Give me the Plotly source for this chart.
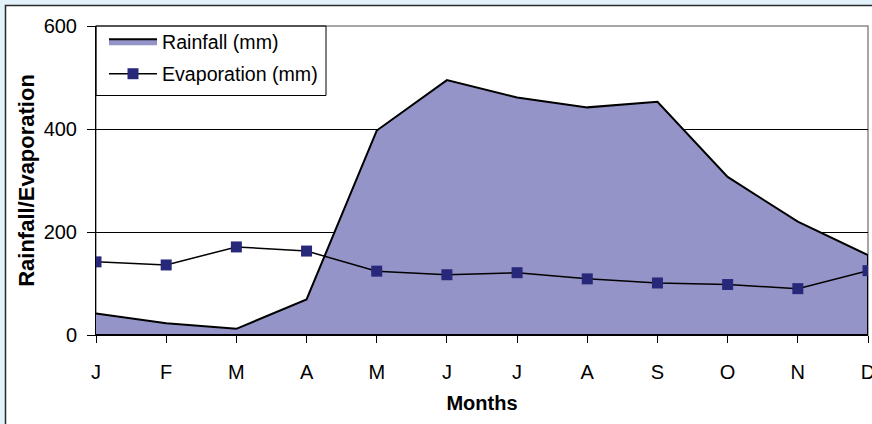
import plotly.graph_objects as go

# Monthly climate data (mm)
months = ["J", "F", "M", "A", "M", "J", "J", "A", "S", "O", "N", "D"]
rainfall = [42, 23, 12, 69, 397, 495, 461, 442, 453, 307, 220, 155]
evaporation = [142, 136, 171, 163, 124, 117, 121, 109, 101, 98, 90, 125]
y_ticks = [0, 200, 400, 600]

W, H = 872, 424
L, R, T, B = 96, 4, 26, 89
pw, ph = W - L - R, H - T - B

idx = list(range(len(months)))

# Rainfall drawn as a closed polygon down to the baseline so the outline
# runs along the last month's edge as well
rain_x = idx + [idx[-1], idx[0]]
rain_y = rainfall + [0, 0]

fig = go.Figure()
fig.add_trace(go.Scatter(
    x=rain_x, y=rain_y, mode="lines", fill="toself",
    fillcolor="#9494c8", line=dict(color="black", width=2),
    name="Rainfall (mm)", legendgroup="a", hoverinfo="skip",
))
fig.add_trace(go.Scatter(
    x=idx, y=evaporation, mode="lines+markers",
    line=dict(color="black", width=1.5),
    marker=dict(symbol="square", size=11, color="#28287a"),
    name="Evaporation (mm)", legendgroup="b",
))

def px_x(p):
    return (p - L) / pw

def px_y(p):
    return (H - B - p) / ph

font_family = "Liberation Sans, Arial, sans-serif"

fig.update_layout(
    width=W, height=H,
    margin=dict(l=L, r=R, t=T, b=B, pad=0, autoexpand=False),
    paper_bgcolor="#e2f2fa",
    plot_bgcolor="white",
    font=dict(family=font_family, color="black", size=20),
    showlegend=True,
    legend=dict(
        x=px_x(104), y=px_y(22), xanchor="left", yanchor="top",
        bgcolor="rgba(0,0,0,0)", borderwidth=0,
        font=dict(size=19.6, family=font_family),
        itemwidth=48, traceorder="grouped", tracegroupgap=4,
    ),
    xaxis=dict(
        range=[0, len(months) - 1], automargin=False,
        tickmode="array", tickvals=idx, ticktext=months,
        showgrid=False, zeroline=False,
        showline=True, linecolor="black", linewidth=1,
        ticks="outside", ticklen=7, tickcolor="black",
        tickfont=dict(size=20), ticklabelstandoff=12,
        ticklabeloverflow="allow",
        title=dict(text="<b>Months</b>", font=dict(size=20), standoff=13),
    ),
    yaxis=dict(
        range=[0, 600], tickvals=y_ticks, automargin=False,
        showgrid=True, gridcolor="black", gridwidth=1,
        zeroline=False,
        showline=True, linecolor="black", linewidth=1,
        ticks="outside", ticklen=8, tickcolor="black",
        tickfont=dict(size=20), ticklabelstandoff=6,
        title=dict(text="<b>Rainfall/Evaporation</b>", font=dict(size=22), standoff=2),
    ),
    shapes=[
        # white chart panel with dark top/left frame
        dict(type="rect", xref="paper", yref="paper", layer="below",
             x0=px_x(5.5), x1=px_x(W + 20), y0=px_y(H + 20), y1=px_y(5.5),
             fillcolor="white", line=dict(color="#2a2a2a", width=1.5)),
        # grey plot-area border
        dict(type="rect", xref="paper", yref="paper", layer="below",
             x0=0, x1=1, y0=0, y1=1,
             line=dict(color="#8a8a8a", width=1.5)),
        # legend box
        dict(type="rect", xref="paper", yref="paper", layer="above",
             x0=px_x(96), x1=px_x(326), y0=px_y(95.5), y1=px_y(26),
             line=dict(color="black", width=1)),
    ],
)

fig.write_html("out.html")
